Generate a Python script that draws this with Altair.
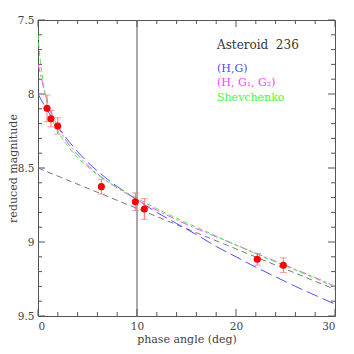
import altair as alt
import pandas as pd

# observations
phase_obs = [0.91, 1.31, 1.99, 6.40, 9.83, 10.74, 22.15, 24.78]
mag_obs = [8.097, 8.167, 8.216, 8.626, 8.728, 8.777, 9.117, 9.157]
err_obs = [0.09, 0.055, 0.055, 0.05, 0.06, 0.07, 0.04, 0.05]

# model curves
hg_phase = [0, 0.5, 1, 1.5, 2, 3, 4, 5, 6, 7, 8, 9, 10, 12, 14, 16, 18, 20, 22, 24, 26, 28, 30]
hg_mag = [8.00, 8.06, 8.115, 8.17, 8.22, 8.31, 8.39, 8.46, 8.52, 8.575, 8.625, 8.67, 8.715,
          8.80, 8.875, 8.95, 9.03, 9.10, 9.17, 9.235, 9.30, 9.36, 9.42]

hgg_phase = [0, 0.2, 0.5, 1, 1.5, 2, 3, 4, 5, 6, 7, 8, 9, 10, 12, 14, 16, 18, 20, 22, 24, 26, 28, 30]
hgg_mag = [7.80, 7.85, 7.94, 8.06, 8.15, 8.22, 8.33, 8.41, 8.48, 8.54, 8.59, 8.635, 8.675, 8.715,
           8.785, 8.85, 8.91, 8.965, 9.02, 9.075, 9.13, 9.185, 9.24, 9.30]

shev_phase = [0, 0.1, 0.2, 0.3, 0.5, 0.75, 1, 1.5, 2, 3, 4, 5, 6, 7, 8, 9, 10, 12, 14, 16, 18, 20,
              22, 24, 26, 28, 30]
shev_mag = [7.60, 7.685, 7.755, 7.816, 7.914, 8.006, 8.077, 8.18, 8.25, 8.35, 8.43, 8.49, 8.545,
            8.59, 8.63, 8.67, 8.705, 8.775, 8.84, 8.90, 8.96, 9.02, 9.08, 9.135, 9.19, 9.245, 9.305]

lin_phase = [0, 30]
lin_mag = [8.50, 9.32]

vline_phase = [10]

# axis ticks
x_major = [0, 10, 20, 30]
x_minor = [2, 4, 6, 8, 12, 14, 16, 18, 22, 24, 26, 28]
y_major = [7.5, 8.0, 8.5, 9.0, 9.5]
y_minor = [7.6, 7.7, 7.8, 7.9, 8.1, 8.2, 8.3, 8.4, 8.6, 8.7, 8.8, 8.9, 9.1, 9.2, 9.3, 9.4]

W, H = 297, 296
FONT = "DejaVu Serif"
TXT = "#444444"

xscale = alt.Scale(domain=[0, 30], nice=False, zero=False)
yscale = alt.Scale(domain=[7.5, 9.5], nice=False, zero=False, reverse=True)
xaxis = alt.Axis(values=x_major, title="phase angle (deg)", format="d",
                 labelPadding=5, titleX=W / 2, titleY=26, titleBaseline="alphabetic",
                 titleAlign="center")
yaxis = alt.Axis(values=y_major, title="reduced magnitude", format=".2~f",
                 labelPadding=4, titleX=-22, titleY=H / 2, titleBaseline="alphabetic",
                 titleAlign="center", titleAngle=270)


def X(field):
    return alt.X(field, type="quantitative", scale=xscale, axis=xaxis)


def Y(field):
    return alt.Y(field, type="quantitative", scale=yscale, axis=yaxis)


obs = pd.DataFrame({"phase": phase_obs, "mag": mag_obs, "err": err_obs})
obs["lo"] = obs["mag"] - obs["err"]
obs["hi"] = obs["mag"] + obs["err"]


def curve(ph, mg, color, dash):
    df = pd.DataFrame({"phase": ph, "mag": mg})
    return alt.Chart(df).mark_line(color=color, strokeWidth=1, strokeDash=dash,
                                   interpolate="monotone", clip=True).encode(
        x=X("phase"), y=Y("mag"))


lin = curve(lin_phase, lin_mag, "#777777", [6, 4])
hg = curve(hg_phase, hg_mag, "#5050ff", [12, 5])
hgg = curve(hgg_phase, hgg_mag, "#ff50ff", [8, 3, 2, 3])
shev = curve(shev_phase, shev_mag, "#50e850", [5, 3])

vline = alt.Chart(pd.DataFrame({"phase": vline_phase})).mark_rule(
    color="#555555", strokeWidth=1).encode(x=X("phase"))

ebar = alt.Chart(obs).mark_rule(color="#ff7070", strokeWidth=1).encode(
    x=X("phase"), y=Y("lo"), y2="hi")
cap_lo = alt.Chart(obs).mark_tick(color="#ff7070", orient="horizontal", size=7,
                                  thickness=1).encode(x=X("phase"), y=Y("lo"))
cap_hi = alt.Chart(obs).mark_tick(color="#ff7070", orient="horizontal", size=7,
                                  thickness=1).encode(x=X("phase"), y=Y("hi"))
pts = alt.Chart(obs).mark_point(filled=True, color="#ff0000", opacity=1, size=50).encode(
    x=X("phase"), y=Y("mag"))

TICK = "#555555"
xmaj = pd.DataFrame({"v": x_major})
xmin = pd.DataFrame({"v": x_minor})
ymaj = pd.DataFrame({"v": y_major})
ymin = pd.DataFrame({"v": y_minor})


def xticks(df, ln):
    b = alt.Chart(df).mark_rule(color=TICK, strokeWidth=1).encode(
        x=X("v"), y=alt.value(H), y2=alt.value(H - ln))
    t = alt.Chart(df).mark_rule(color=TICK, strokeWidth=1).encode(
        x=X("v"), y=alt.value(0), y2=alt.value(ln))
    return b + t


def yticks(df, ln):
    l = alt.Chart(df).mark_rule(color=TICK, strokeWidth=1).encode(
        y=Y("v"), x=alt.value(0), x2=alt.value(ln))
    r = alt.Chart(df).mark_rule(color=TICK, strokeWidth=1).encode(
        y=Y("v"), x=alt.value(W), x2=alt.value(W - ln))
    return l + r


def label(text, color, px, py, size):
    return alt.Chart(pd.DataFrame({"t": [text]})).mark_text(
        align="left", baseline="alphabetic", font=FONT, fontSize=size, color=color).encode(
        text="t:N", x=alt.value(px), y=alt.value(py))


labels = (label("Asteroid\u00a0\u00a0236", "#333333", 179, 29, 12)
          + label("(H,G)", "#4a4aff", 179, 52, 11)
          + label("(H,\u00a0G\u2081,\u00a0G\u2082)", "#ff3cff", 179, 66, 11)
          + label("Shevchenko", "#3cff3c", 179, 81, 11))

chart = alt.layer(
    xticks(xmaj, 7), xticks(xmin, 4), yticks(ymaj, 7), yticks(ymin, 4),
    vline, lin, hg, hgg, shev, ebar, cap_lo, cap_hi, pts, labels
).properties(
    width=W, height=H,
    autosize=alt.AutoSizeParams(type="none"),
    padding={"left": 30, "top": 12, "right": 10, "bottom": 30}
).configure_view(
    stroke="#555555", strokeWidth=1
).configure_axis(
    grid=False, domain=False, ticks=False,
    labelFont=FONT, titleFont=FONT, labelFontSize=10.5, titleFontSize=11,
    labelColor=TXT, titleColor=TXT, titleFontWeight="normal"
)

chart.save("out.html", embed_options={"renderer": "svg", "actions": False})
